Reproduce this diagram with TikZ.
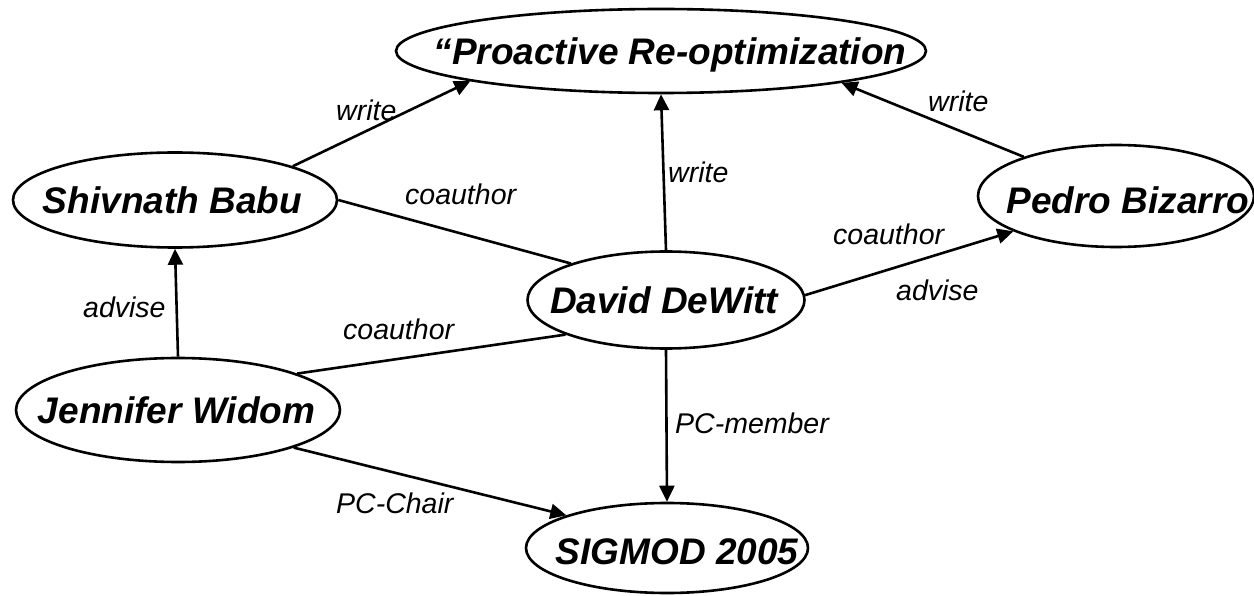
\documentclass[tikz,border=0pt]{standalone}
\usepackage{fontspec}
\setmainfont{Liberation Sans}
\usetikzlibrary{arrows.meta,shapes.geometric}
\tikzset{
  ent/.style 2 args={draw, ellipse, line width=2.6pt, minimum width=#1pt,
    minimum height=#2pt, inner sep=0pt},
  enttext/.style={font=\fontsize{37}{44}\selectfont\bfseries\itshape,
    inner sep=0pt, text height=26.5pt, text depth=0pt},
  rel/.style={font=\fontsize{28.5}{34}\selectfont\itshape, inner sep=0pt,
    anchor=base west},
  link/.style={line width=2.6pt},
  arr/.style={link, -{Triangle[length=16pt,width=15pt]}},
}
\begin{document}
\begin{tikzpicture}[x=1pt,y=-1pt]
\fill[white] (0,0) rectangle (1254,596);
\useasboundingbox (0,0) rectangle (1254,596);

% entities
\node[ent={530}{84}] (paper) at (661,51) {};
\node[enttext] (paper-t) at (670,51) {“Proactive Re-optimization};
\node[ent={324}{95}] (shivnath) at (175,200) {};
\node[enttext] (shivnath-t) at (172.5,200) {Shivnath Babu};
\node[ent={276}{102}] (pedro) at (1116,196) {};
\node[enttext] (pedro-t) at (1128,200) {Pedro Bizarro};
\node[ent={277}{97}] (david) at (666,300) {};
\node[enttext] (david-t) at (664,300) {David DeWitt};
\node[ent={324}{104}] (jennifer) at (178,410) {};
\node[enttext] (jennifer-t) at (176.5,410) {Jennifer Widom};
\node[ent={282}{90}] (sigmod) at (667,548) {};
\node[enttext] (sigmod-t) at (677,551) {SIGMOD 2005};

% relations
\draw[arr] (shivnath.16.6) -- (paper.189.9);
\draw[arr] (david.90) -- (paper.270);
\draw[arr] (pedro.157.9) -- (paper.350.1);
\draw[link] (shivnath.0) -- (david.159);
\draw[arr] (david.2) -- (pedro.199.1);
\draw[arr] (jennifer.90) -- (shivnath.270);
\draw[link] (jennifer.17.5) -- (david.199.1);
\draw[arr] (jennifer.342.2) -- (sigmod.162.8);
\draw[arr] (david.270) -- (sigmod.90);

% relation labels
\node[rel] (l-write1) at (336,121) {write};
\node[rel] (l-write2) at (668,183) {write};
\node[rel] (l-write3) at (928,112) {write};
\node[rel] (l-coauth1) at (405,205) {coauthor};
\node[rel] (l-coauth2) at (833,245) {coauthor};
\node[rel] (l-advise2) at (896,301) {advise};
\node[rel] (l-advise1) at (83,317) {advise};
\node[rel] (l-coauth3) at (343,340) {coauthor};
\node[rel] (l-pcmember) at (675,433) {PC-member};
\node[rel] (l-pcchair) at (336,513) {PC-Chair};
\end{tikzpicture}
\end{document}
